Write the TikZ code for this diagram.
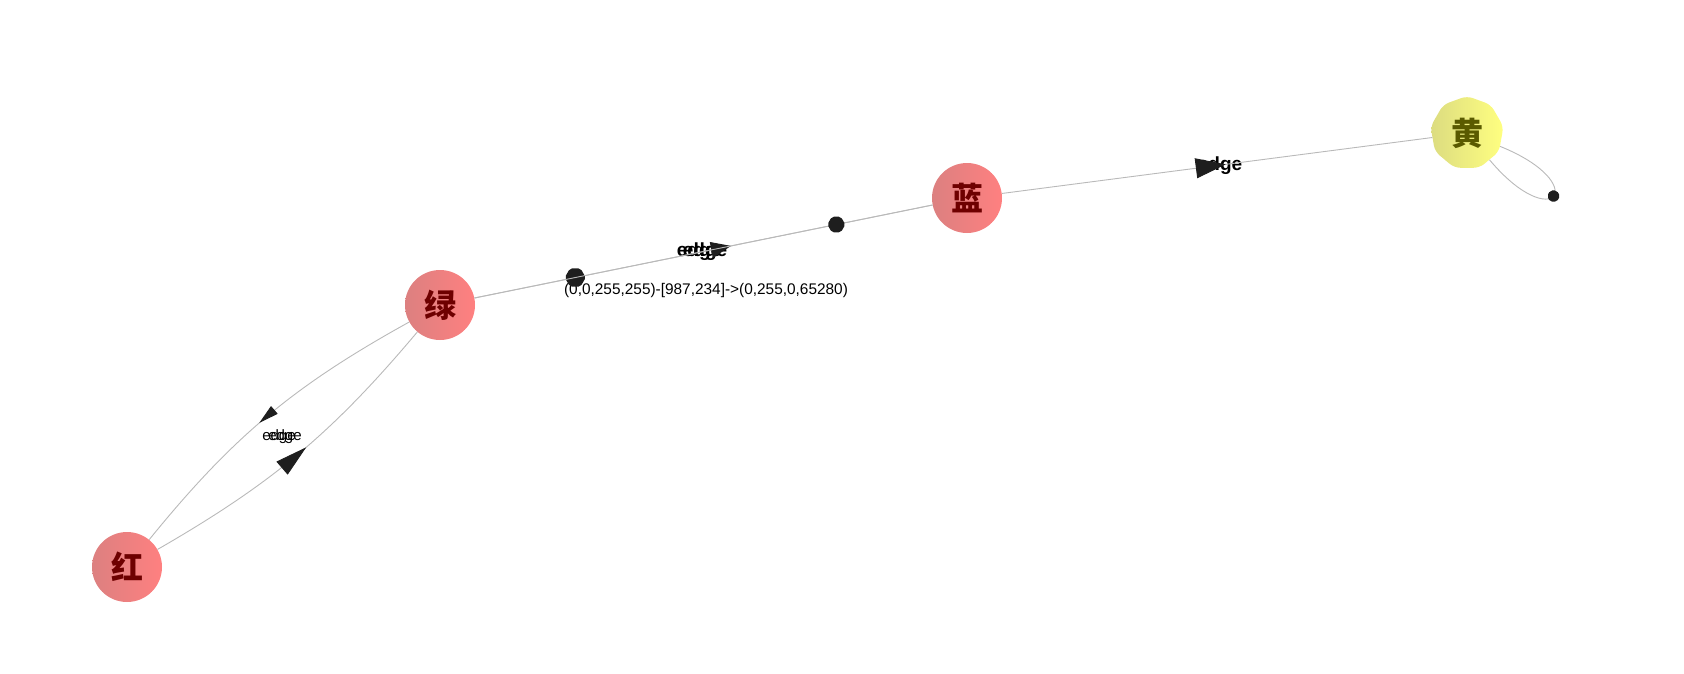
\documentclass[tikz,border=0pt]{standalone}
\usepackage{fontspec}
\setmainfont{Liberation Sans}
\newfontfamily\cjkfont{Noto Sans CJK SC}
\usetikzlibrary{arrows.meta,decorations.markings,shapes.geometric}

\definecolor{redL}{RGB}{220,128,128}
\definecolor{redR}{RGB}{255,128,128}
\definecolor{yelL}{RGB}{220,220,128}
\definecolor{yelR}{RGB}{255,255,128}
\definecolor{redTxt}{RGB}{110,0,0}
\definecolor{yelTxt}{RGB}{90,90,0}
\definecolor{edgeGray}{RGB}{185,185,185}
\definecolor{headBlack}{RGB}{30,30,30}

\tikzset{
	vertex/.style={circle, minimum size=70pt, inner sep=0pt, font=\cjkfont\bfseries\fontsize{32}{32}\selectfont},
	redvertex/.style={vertex, left color=redL, middle color=redL, right color=redR, text=redTxt},
	yelvertex/.style={vertex, regular polygon, regular polygon sides=9, minimum size=74pt, rounded corners=6pt, left color=yelL, middle color=yelL, right color=yelR, text=yelTxt},
	link/.style={draw=edgeGray, line width=0.9pt},
	elabel/.style={font=\fontsize{#1}{#1}\selectfont, inner sep=0pt, text=black},
	boldlabel/.style={font=\bfseries\fontsize{#1}{#1}\selectfont, inner sep=0pt, text=black},
	blob/.style={regular polygon, regular polygon sides=6, fill=headBlack, minimum size=#1, inner sep=0pt, rounded corners=2pt},
	tipat/.style n args={3}{postaction={decorate, decoration={markings, mark=at position #1 with {\arrow{Triangle[length=#2, width=#3, color=headBlack]}}}}},
	blobat/.style 2 args={postaction={decorate, decoration={markings, mark=at position #1 with {\node[blob=#2] {};}}}}
}

\begin{document}
\begin{tikzpicture}[x=1pt, y=1pt]
	%%%%% START %%%%%
	\useasboundingbox (0, 0) rectangle (1684, -673);
	
	\node[redvertex] (hong) at (127, -567) {红};
	\node[redvertex] (lv) at (440, -305) {绿};
	\node[redvertex] (lan) at (967, -198) {蓝};
	\node[yelvertex] (huang) at (1467, -133) {黄};
	
	\node[elabel=15] (eRGa) at (279, -437) {edge};
	\node[elabel=15] (eRGb) at (285, -437) {edge};
	\node[boldlabel=19] (eGBa) at (699, -252) {edge};
	\node[boldlabel=19] (eGBb) at (705, -252) {edge};
	\node[elabel=15.4] (eGBlong) at (706, -291) {(0,0,255,255)-[987,234]->(0,255,0,65280)};
	\node[boldlabel=19] (eBY) at (1220, -166) {edge};
	
	\draw[link, tipat={0.53}{20pt}{10pt}] (lv) to[bend right=11] (hong);
	\draw[link, tipat={0.53}{32pt}{17pt}] (hong) to[bend right=10] (lv);
	
	\draw[link, blobat={0.22}{21pt}, tipat={0.56}{20pt}{16pt}] (lv) -- (lan);
	\draw[link, blobat={0.21}{18pt}] (lan) -- (lv);
	
	\draw[link, tipat={0.52}{30pt}{20pt}] (lan) -- (huang);
	
	\draw[link, blobat={0.5}{13pt}] (huang.-22) .. controls +(-22:100) and +(-50:100) .. (huang.-50);
	
	%%%%% END %%%%%
\end{tikzpicture}
\end{document}
